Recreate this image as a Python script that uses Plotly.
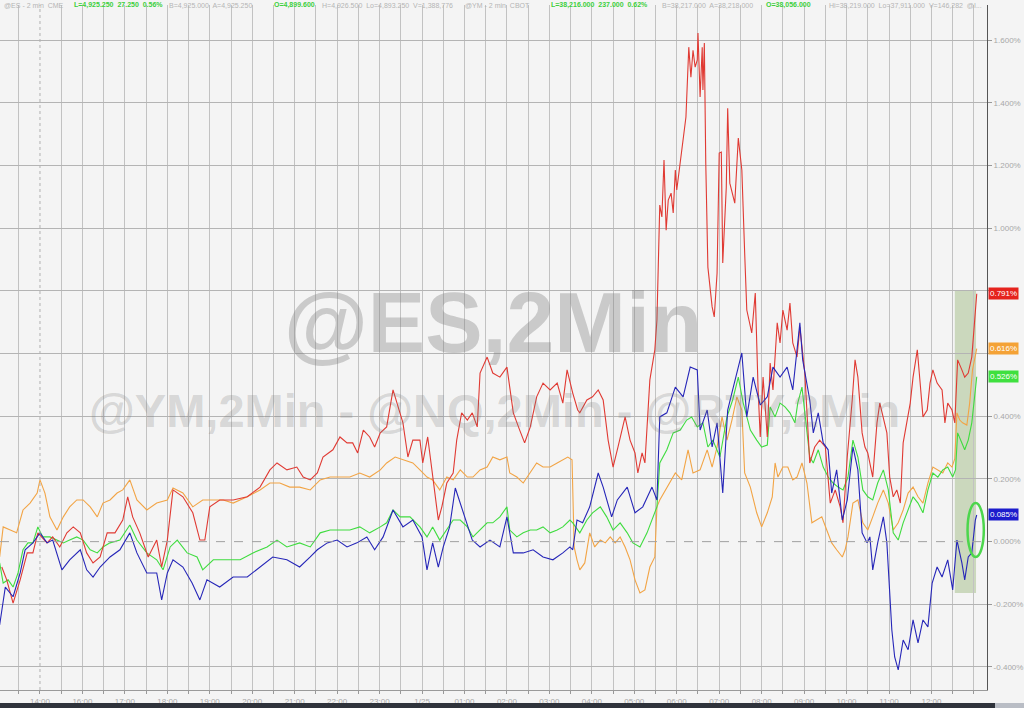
import plotly.graph_objects as go

# time in minutes after the "14:00" tick; values in % change
nq_t = [-54, -47, -38, -28, -18, -10, -3, 10, 18, 28,
        38, 47, 57, 66, 75, 85, 95, 106, 117, 124,
        131, 141, 153, 165, 172, 180, 188, 202, 216, 226,
        233, 240, 254, 273, 293, 311, 325, 335, 349, 363,
        372, 382, 392, 400, 414, 424, 434, 442, 449, 457,
        466, 473, 481, 490, 499, 506, 513, 520, 527, 537,
        541, 548, 555, 563, 568, 575, 584, 589, 596, 604,
        611, 618, 622, 632, 640, 650, 660, 669, 678, 685,
        693, 702, 711, 721, 731, 739, 745, 753, 760, 763,
        773, 781, 789, 796, 803, 810, 817, 827, 834, 841,
        845, 851, 855, 862, 869, 872, 876, 879, 882, 885,
        888, 892, 895, 898, 900, 903, 907, 913, 917, 920,
        923, 926, 929, 930, 933, 936, 937, 939, 941, 944,
        950, 953, 957, 960, 963, 965, 970, 972, 975, 979,
        982, 987, 992, 996, 999, 1006, 1011, 1015, 1018, 1022,
        1028, 1032, 1036, 1042, 1046, 1050, 1056, 1060, 1064, 1070,
        1074, 1081, 1088, 1095, 1102, 1110, 1117, 1124, 1131, 1135,
        1141, 1148, 1152, 1156, 1162, 1166, 1170, 1177, 1183, 1187,
        1192, 1197, 1201, 1206, 1211, 1216, 1220, 1225, 1230, 1234,
        1240, 1244, 1248, 1254, 1258, 1262, 1268, 1275, 1279, 1283,
        1289, 1293, 1297, 1303, 1307, 1312, 1317, 1320, 1324]
nq_v = [-0.081, -0.122, -0.196, -0.122, -0.036, -0.036, 0.028, -0.004, 0.015, -0.017,
        0.028, 0.047, 0.028, -0.036, -0.068, -0.049, 0.028, 0.028, 0.069, 0.143,
        0.079, 0.028, -0.049, 0.005, -0.081, 0.005, 0.165, 0.143, 0.092, 0.005,
        0.005, 0.111, 0.133, 0.133, 0.143, 0.174, 0.229, 0.251, 0.229, 0.238,
        0.206, 0.197, 0.219, 0.270, 0.293, 0.334, 0.315, 0.315, 0.283, 0.356,
        0.334, 0.302, 0.347, 0.366, 0.484, 0.430, 0.379, 0.270, 0.324, 0.324,
        0.251, 0.334, 0.206, 0.069, 0.111, 0.187, 0.219, 0.324, 0.411, 0.388,
        0.411, 0.366, 0.538, 0.589, 0.538, 0.525, 0.557, 0.411, 0.356, 0.315,
        0.366, 0.462, 0.506, 0.484, 0.506, 0.442, 0.548, 0.474, 0.420, 0.411,
        0.452, 0.462, 0.484, 0.452, 0.324, 0.238, 0.302, 0.398, 0.324, 0.283,
        0.219, 0.283, 0.251, 0.516, 0.612, 0.707, 1.074, 1.036, 1.218, 0.994,
        1.090, 1.112, 1.049, 1.186, 1.122, 1.176, 1.259, 1.355, 1.578, 1.482,
        1.568, 1.514, 1.537, 1.623, 1.419, 1.578, 1.441, 1.591, 1.208, 0.876,
        0.749, 0.717, 0.857, 1.240, 1.243, 0.889, 1.131, 1.383, 1.144, 1.112,
        1.080, 1.288, 1.186, 0.921, 0.739, 0.666, 0.793, 0.484, 0.334, 0.525,
        0.334, 0.570, 0.484, 0.698, 0.634, 0.739, 0.675, 0.761, 0.634, 0.589,
        0.685, 0.538, 0.251, 0.302, 0.324, 0.302, 0.123, 0.165, 0.111, 0.060,
        0.270, 0.452, 0.580, 0.525, 0.347, 0.302, 0.283, 0.206, 0.379, 0.442,
        0.398, 0.347, 0.206, 0.143, 0.165, 0.123, 0.315, 0.379, 0.442, 0.525,
        0.612, 0.506, 0.398, 0.420, 0.506, 0.548, 0.506, 0.484, 0.379, 0.442,
        0.420, 0.379, 0.580, 0.548, 0.525, 0.538, 0.589, 0.675, 0.791]

ym_t = [-57, -52, -42, -33, -24, -14, -4, 0, 7, 14,
        24, 33, 42, 52, 61, 71, 81, 89, 99, 109,
        117, 127, 137, 151, 165, 180, 188, 202, 216, 230,
        245, 259, 273, 293, 311, 325, 339, 353, 367, 382,
        396, 410, 424, 438, 452, 466, 481, 490, 502, 513,
        527, 537, 547, 555, 565, 575, 584, 594, 604, 612,
        622, 632, 640, 650, 660, 664, 674, 683, 693, 702,
        711, 721, 731, 739, 746, 752, 755, 759, 763, 770,
        777, 784, 792, 799, 806, 813, 820, 827, 834, 841,
        848, 855, 862, 869, 872, 876, 886, 898, 907, 916,
        923, 933, 943, 950, 957, 964, 971, 978, 985, 992,
        996, 1004, 1013, 1020, 1028, 1035, 1039, 1043, 1050, 1057,
        1064, 1070, 1077, 1084, 1091, 1098, 1105, 1112, 1119, 1126,
        1134, 1138, 1142, 1149, 1156, 1163, 1170, 1177, 1184, 1192,
        1199, 1206, 1213, 1220, 1227, 1234, 1241, 1248, 1255, 1262,
        1269, 1276, 1283, 1289, 1293, 1296, 1300, 1304, 1310, 1314,
        1318, 1324]
ym_v = [-0.049, 0.047, 0.037, 0.028, 0.101, 0.123, 0.155, 0.197, 0.155, 0.079,
        0.037, 0.079, 0.111, 0.133, 0.133, 0.111, 0.079, 0.123, 0.133, 0.155,
        0.165, 0.197, 0.133, 0.101, 0.123, 0.133, 0.171, 0.155, 0.111, 0.133,
        0.133, 0.133, 0.123, 0.143, 0.165, 0.187, 0.187, 0.174, 0.174, 0.165,
        0.197, 0.206, 0.206, 0.206, 0.219, 0.206, 0.229, 0.251, 0.270, 0.261,
        0.251, 0.229, 0.206, 0.197, 0.165, 0.206, 0.197, 0.229, 0.206, 0.206,
        0.229, 0.238, 0.270, 0.261, 0.270, 0.219, 0.206, 0.187, 0.219, 0.251,
        0.238, 0.238, 0.251, 0.261, 0.270, 0.261, -0.017, -0.058, -0.090, -0.068,
        0.028, -0.017, 0.005, -0.004, 0.015, -0.004, 0.015, -0.017, -0.058, -0.122,
        -0.164, -0.154, -0.081, -0.049, 0.111, 0.133, 0.174, 0.219, 0.197, 0.293,
        0.219, 0.229, 0.293, 0.238, 0.302, 0.398, 0.324, 0.388, 0.462, 0.420,
        0.219, 0.174, 0.092, 0.047, 0.092, 0.143, 0.251, 0.206, 0.238, 0.238,
        0.197, 0.206, 0.251, 0.187, 0.060, 0.069, 0.079, 0.037, -0.004, -0.026,
        -0.049, -0.026, 0.015, 0.123, 0.133, 0.060, 0.037, 0.079, 0.123, 0.165,
        0.123, 0.037, 0.060, 0.101, 0.155, 0.174, 0.143, 0.123, 0.187, 0.238,
        0.229, 0.219, 0.251, 0.238, 0.265, 0.411, 0.388, 0.379, 0.372, 0.442,
        0.548, 0.616]

es_t = [-57, -52, -45, -38, -31, -24, -17, -10, -3, 4,
        14, 24, 33, 42, 52, 61, 71, 81, 89, 99,
        113, 127, 137, 151, 165, 174, 184, 194, 208, 222,
        230, 245, 264, 283, 301, 321, 335, 349, 367, 382,
        396, 410, 424, 438, 452, 466, 481, 490, 499, 509,
        523, 537, 547, 555, 565, 575, 584, 594, 604, 612,
        622, 632, 640, 650, 660, 664, 674, 683, 693, 702,
        711, 721, 731, 739, 749, 753, 763, 773, 781, 792,
        801, 810, 820, 830, 838, 848, 858, 866, 872, 876,
        886, 895, 905, 914, 921, 929, 937, 944, 951, 961,
        971, 979, 987, 994, 1004, 1013, 1020, 1028, 1032, 1039,
        1046, 1053, 1060, 1067, 1071, 1077, 1081, 1088, 1093, 1100,
        1107, 1114, 1121, 1128, 1135, 1142, 1149, 1156, 1163, 1170,
        1177, 1184, 1192, 1199, 1206, 1213, 1220, 1227, 1234, 1241,
        1248, 1255, 1262, 1269, 1276, 1283, 1290, 1294, 1297, 1303,
        1307, 1312, 1317, 1324]
es_v = [-0.068, -0.132, -0.122, -0.145, -0.100, -0.026, -0.004, -0.004, 0.047, 0.015,
        0.015, 0.005, -0.004, 0.005, 0.015, 0.005, -0.026, -0.036, -0.017, -0.004,
        0.005, 0.053, 0.005, -0.036, -0.058, -0.090, -0.017, 0.005, -0.036, -0.049,
        -0.090, -0.058, -0.058, -0.058, -0.036, -0.017, 0.005, -0.017, -0.004, -0.017,
        0.028, 0.037, 0.037, 0.037, 0.047, 0.028, 0.047, 0.060, 0.101, 0.079,
        0.079, 0.047, 0.015, 0.047, 0.005, 0.037, 0.069, 0.069, 0.047, 0.015,
        0.037, 0.060, 0.060, 0.079, 0.111, 0.037, 0.015, 0.028, 0.037, 0.037,
        0.047, 0.028, 0.037, 0.047, 0.069, 0.060, 0.028, 0.069, 0.092, 0.111,
        0.079, 0.037, 0.060, 0.028, -0.004, -0.017, 0.028, 0.079, 0.111, 0.251,
        0.293, 0.347, 0.356, 0.388, 0.398, 0.366, 0.379, 0.302, 0.324, 0.270,
        0.398, 0.452, 0.525, 0.442, 0.356, 0.324, 0.302, 0.308, 0.430, 0.398,
        0.442, 0.430, 0.411, 0.379, 0.442, 0.493, 0.411, 0.270, 0.251, 0.293,
        0.238, 0.206, 0.187, 0.174, 0.165, 0.206, 0.324, 0.270, 0.165, 0.143,
        0.133, 0.187, 0.229, 0.165, 0.028, 0.005, 0.060, 0.101, 0.143, 0.123,
        0.092, 0.165, 0.219, 0.206, 0.229, 0.238, 0.206, 0.229, 0.347, 0.315,
        0.293, 0.324, 0.379, 0.526]

rty_t = [-57, -49, -38, -28, -21, -10, 0, 10, 18, 31,
         42, 57, 66, 75, 85, 99, 113, 127, 137, 151,
         165, 172, 180, 188, 202, 215, 226, 236, 254, 273,
         293, 311, 329, 349, 367, 382, 392, 406, 420, 434,
         448, 462, 473, 485, 499, 513, 527, 540, 547, 555,
         563, 570, 579, 587, 594, 601, 611, 622, 636, 650,
         660, 669, 683, 697, 711, 725, 739, 749, 753, 759,
         767, 777, 789, 796, 808, 816, 830, 841, 852, 865,
         872, 876, 886, 898, 909, 919, 929, 933, 943, 950,
         957, 965, 972, 979, 992, 999, 1008, 1018, 1028, 1036,
         1046, 1056, 1064, 1074, 1078, 1088, 1093, 1100, 1107, 1114,
         1119, 1126, 1134, 1141, 1149, 1156, 1162, 1169, 1173, 1177,
         1184, 1192, 1197, 1204, 1208, 1213, 1220, 1227, 1234, 1241,
         1248, 1255, 1261, 1268, 1275, 1283, 1290, 1296, 1303, 1307,
         1312, 1317, 1322, 1324]
rty_v = [-0.266, -0.145, -0.176, -0.100, -0.026, -0.004, 0.028, -0.004, 0.005, -0.090,
         -0.058, -0.026, -0.090, -0.113, -0.081, -0.049, -0.026, 0.028, -0.036, -0.100,
         -0.100, -0.186, -0.100, -0.058, -0.081, -0.132, -0.186, -0.122, -0.145, -0.113,
         -0.113, -0.081, -0.049, -0.058, -0.081, -0.049, -0.026, -0.004, 0.005, -0.017,
         -0.004, 0.015, -0.026, 0.015, 0.101, 0.047, 0.069, 0.015, -0.090, -0.004,
         -0.081, -0.017, 0.047, 0.171, 0.123, 0.069, 0.005, -0.017, 0.005, -0.017,
         0.079, -0.036, -0.036, -0.026, -0.049, -0.058, -0.036, -0.017, -0.026, 0.069,
         0.060, 0.111, 0.219, 0.174, 0.079, 0.133, 0.174, 0.092, 0.111, 0.174,
         0.133, 0.398, 0.411, 0.493, 0.462, 0.557, 0.548, 0.356, 0.420, 0.302,
         0.379, 0.155, 0.420, 0.484, 0.602, 0.398, 0.525, 0.436, 0.462, 0.557,
         0.525, 0.557, 0.484, 0.698, 0.580, 0.452, 0.347, 0.411, 0.315, 0.293,
         0.155, 0.229, 0.069, 0.133, 0.302, 0.229, 0.028, -0.004, 0.015, -0.090,
         -0.004, 0.079, -0.004, -0.282, -0.368, -0.409, -0.314, -0.345, -0.250, -0.323,
         -0.250, -0.272, -0.132, -0.081, -0.113, -0.058, -0.154, 0.005, -0.068, -0.122,
         -0.049, -0.036, 0.069, 0.085]

x_labels = ["14:00", "16:00", "17:00", "18:00", "19:00", "20:00", "21:00", "22:00",
            "23:00", "1/25", "01:00", "02:00", "03:00", "04:00", "05:00", "06:00",
            "07:00", "08:00", "09:00", "10:00", "11:00", "12:00"]
y_ticks = [-0.4, -0.2, 0.0, 0.2, 0.4, 0.6, 0.8, 1.0, 1.2, 1.4, 1.6]
# tick labels hidden behind the last-value boxes in the reference
y_hidden = [0.6, 0.8]
last_labels = [("0.791%", 0.791, "#e5231d"), ("0.616%", 0.616, "#f4a236"),
               ("0.526%", 0.526, "#3fe03f"), ("0.085%", 0.085, "#1c1ccc")]

series = [(ym_t, ym_v, "#f2a445"), (es_t, es_v, "#3fdc3f"),
          (nq_t, nq_v, "#e03a33"), (rty_t, rty_v, "#2626b8")]

fig = go.Figure()
for t, v, c in series:
    fig.add_trace(go.Scatter(x=t, y=v, mode="lines", line=dict(color=c, width=1.1),
                             hoverinfo="skip", showlegend=False))

x_major = [i * 60 for i in range(len(x_labels))]
x_minor = [m for m in range(-30, 1340, 30) if m != 0]
y_minor = [v for v in y_ticks if v != 0.0]
y_text = ["" if v in y_hidden else "%.3f%%" % v for v in y_ticks]

BG = "#f4f4f4"
TICKFONT = dict(family="Liberation Sans, Arial", size=8, color="#a8a8a8")
H = 685.0  # plot height in px

fig.update_layout(
    width=1024, height=708,
    margin=dict(l=0, r=37, t=5, b=18, pad=0),
    paper_bgcolor=BG, plot_bgcolor=BG,
    xaxis=dict(range=[-56.5, 1338.5], tickmode="array", tickvals=x_major, ticktext=x_labels,
               ticks="outside", ticklen=3, tickcolor="#999", showgrid=False, zeroline=False,
               showline=True, linecolor="#9a9a9a", linewidth=1, tickfont=TICKFONT,
               minor=dict(tickmode="array", tickvals=x_minor, showgrid=True,
                          gridcolor="#c2c2c2", gridwidth=1, ticks="outside", ticklen=3,
                          tickcolor="#999")),
    yaxis=dict(range=[-0.4735, 1.7125], side="right", tickmode="array", tickvals=y_ticks,
               ticktext=y_text, ticks="outside", ticklen=4,
               tickcolor="#999", showgrid=False, zeroline=False, showline=True,
               linecolor="#555", linewidth=1, tickfont=TICKFONT,
               minor=dict(tickmode="array", tickvals=y_minor, showgrid=True,
                          gridcolor="#b4b4b4", gridwidth=1, ticks="")),
    font=dict(family="Liberation Sans, Arial"),
)

shapes = [
    dict(type="line", xref="paper", yref="y", x0=0, x1=1, y0=0, y1=0,
         line=dict(color="#a0a0a0", width=1, dash="dash")),
    dict(type="line", xref="x", yref="paper", x0=0, x1=0, y0=0, y1=1,
         line=dict(color="#b0b0b0", width=1, dash="dot")),
    dict(type="rect", xref="x", yref="y", x0=1293, x1=1323, y0=-0.164, y1=0.803,
         fillcolor="rgba(120,160,80,0.33)", line=dict(width=0), layer="below"),
    dict(type="circle", xref="x", yref="y", x0=1311, x1=1334, y0=-0.049, y1=0.123,
         line=dict(color="#4cd64c", width=2.5)),
    dict(type="rect", xref="paper", yref="paper", x0=-0.01, x1=1.06, y0=-13 / H, y1=-20 / H,
         fillcolor="#2f333b", line=dict(width=0)),
    dict(type="rect", xref="paper", yref="paper", x0=995 / 987, x1=1.06, y0=-13 / H, y1=-20 / H,
         fillcolor="#b9bdc5", line=dict(width=0)),
]
fig.update_layout(shapes=shapes)

ann = []
# watermarks
ann.append(dict(text="<b>@ES,2Min</b>", xref="paper", yref="paper", x=493 / 987, y=(690 - 322) / H,
                showarrow=False, font=dict(family="Liberation Sans, Arial", size=86,
                                           color="rgba(120,120,120,0.34)")))
ann.append(dict(text="<b>@YM,2Min - @NQ,2Min - @RTY,2Min</b>", xref="paper", yref="paper",
                x=494 / 987, y=(690 - 410) / H, showarrow=False,
                font=dict(family="Liberation Sans, Arial", size=47, color="rgba(120,120,120,0.24)")))

# header quote strip
GRAY = "#b4b4b4"
GREEN = "#3ccf3c"
header = [
    (2, "@ES - 2 min  CME", GRAY, False),
    (72, "L=4,925.250  27.250  0.56%", GREEN, True),
    (167, "B=4,925.000  A=4,925.250", GRAY, False),
    (272, "O=4,899.600", GREEN, True),
    (320, "H=4,926.500  Lo=4,893.250  V=1,388,776", GRAY, False),
    (463, "@YM - 2 min  CBOT", GRAY, False),
    (549, "L=38,216.000  237.000  0.62%", GREEN, True),
    (660, "B=38,217.000  A=38,218.000", GRAY, False),
    (764, "O=38,056.000", GREEN, True),
    (827, "Hi=38,219.000  Lo=37,911.000  V=146,282  @I...", GRAY, False),
]
for xpx, txt, col, bold in header:
    ann.append(dict(text=("<b>%s</b>" % txt) if bold else txt, xref="paper", yref="paper",
                    x=xpx / 987, y=1.0, xanchor="left", yanchor="middle", showarrow=False,
                    font=dict(family="Liberation Sans, Arial", size=7, color=col)))

# last value boxes
for txt, val, col in last_labels:
    ann.append(dict(text=txt, xref="paper", yref="y", x=1, y=val, xanchor="left", xshift=1,
                    showarrow=False, bgcolor=col, borderpad=1,
                    font=dict(family="Liberation Sans, Arial", size=8, color="white")))
fig.update_layout(annotations=ann)

fig.write_html("out.html", config={"displayModeBar": False},
               post_script="document.body.style.margin='0';")
